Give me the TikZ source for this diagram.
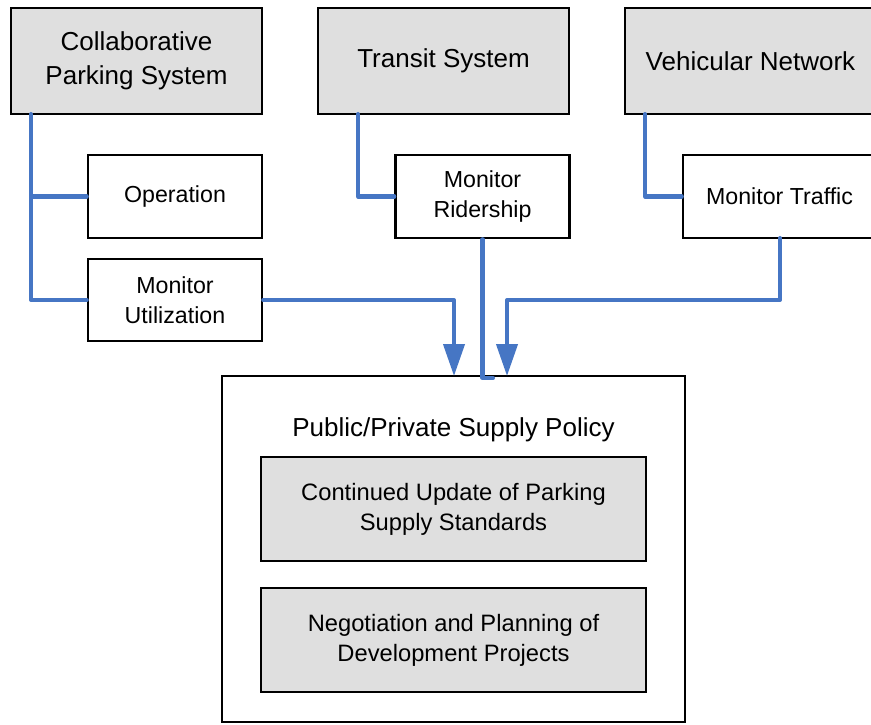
\documentclass[tikz,border=0pt]{standalone}
\usepackage{fontspec}
\setmainfont{Liberation Sans}
\usetikzlibrary{arrows.meta}
\definecolor{linkblue}{RGB}{70,118,196}
\tikzset{
    sysbox/.style={draw, line width=1.4pt, fill=gray!25, minimum width=5.02cm, minimum height=2.12cm,
      align=center, font=\fontsize{14.8}{19.4}\selectfont},
    taskbox/.style={draw, line width=1.4pt, fill=white, minimum width=3.48cm, minimum height=1.66cm,
      align=center, font=\fontsize{13.2}{17}\selectfont},
    subbox/.style={draw, line width=1.4pt, fill=gray!25, minimum width=7.7cm, minimum height=2.08cm,
      align=center, font=\fontsize{13.5}{17}\selectfont},
    link/.style={draw=linkblue, line width=2.3pt, line cap=round, line join=round},
    linkarrow/.style={link, -{Triangle[width=0.42cm,length=0.64cm]}},
  }
\begin{document}
\begin{tikzpicture}[x=0.02cm,y=-0.02cm]
				  % 1 unit = 1 px of the reference
				  \useasboundingbox (0,0) rectangle (871,724);
				  % sources (the right boxes run off the page)
				  \node[sysbox] (cps) at (136.5,61) {\raisebox{-0.06cm}{\begin{tabular}{@{}c@{}}Collaborative\\Parking System\end{tabular}}};
				  \node[sysbox] (transit) at (443.5,61) {Transit System};
				  \node[sysbox, minimum width=5.4cm] (vehnet) at (760,61) {\hspace*{-0.38cm}Vehicular Network};
				  % monitoring tasks
				  \node[taskbox] (oper) at (175,196.5) {Operation};
				  \node[taskbox, minimum height=1.64cm] (util) at (175,300) {Monitor\\Utilization};
				  \node[taskbox] (rider) at (482.5,196.5) {Monitor\\Ridership};
				  \node[taskbox, minimum width=4.34cm] (traffic) at (791.5,196.5) {\hspace*{-0.48cm}Monitor Traffic};
				  % policy
				  \node[draw, line width=1.4pt, minimum width=9.26cm, minimum height=6.92cm] (policy) at (453.5,549) {};
				  \node[font=\fontsize{14.8}{19.4}\selectfont] (policyhead) at (453.5,430) {Public/Private Supply Policy};
				  \node[subbox] (update) at (453.5,509) {Continued Update of Parking\\Supply Standards};
				  \node[subbox] (nego) at (453.5,640) {Negotiation and Planning of\\Development Projects};
				  
				  \coordinate (cpsfoot) at (31,114);
				  \coordinate (transitfoot) at (358,114);
				  \coordinate (vehfoot) at (645,114);
				  \coordinate (trafficfoot) at (780,238);
				  \coordinate (inleft) at (454,376);
				  \coordinate (inright) at (507,376);
				  \coordinate (bend) at (507,300);
				  \coordinate (jog) at (493,378);
				  
				  \draw[link] (cpsfoot) |- (oper.west) (cpsfoot) |- (util.west);
				  \draw[link] (transitfoot) |- (rider.west);
				  \draw[link] (vehfoot) |- (traffic.west);
				  \draw[link] (rider.south) |- (jog);
				  \draw[linkarrow] (util.east) -| (inleft);
				  \draw[linkarrow] (trafficfoot) |- (bend) -- (inright);
				  \end{tikzpicture}
\end{document}
